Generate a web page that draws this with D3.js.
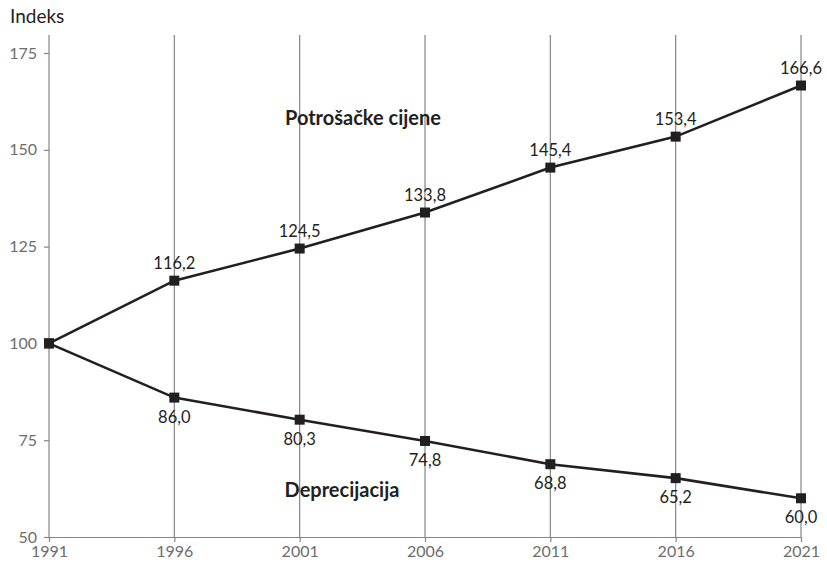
<!DOCTYPE html>
<html>
<head>
<meta charset="utf-8">
<script src="https://cdn.jsdelivr.net/npm/d3@7"></script>
<style>
  html, body { margin: 0; padding: 0; background: #fff; }
  svg { display: block; font-family: Lato, "Open Sans", sans-serif; }
</style>
</head>
<body>
<svg id="chart" width="827" height="568"></svg>
<script>
// Index values, 1991 = 100
const years = [1991, 1996, 2001, 2006, 2011, 2016, 2021];
const consumerPrices = [100, 116.2, 124.5, 133.8, 145.4, 153.4, 166.6];
const depreciation = [100, 86.0, 80.3, 74.8, 68.8, 65.2, 60.0];
const yTicks = [50, 75, 100, 125, 150, 175];
const seriesNames = ["Potrošačke cijene", "Deprecijacija"];

const svg = d3.select("#chart");
const margin = { left: 49, right: 26, top: 35, bottom: 31 };
const W = 827, H = 568;

const x = d3.scaleLinear().domain([1991, 2021]).range([margin.left, W - margin.right]);
const y = d3.scaleLinear().domain([50, 175]).range([H - margin.bottom, 53]);

const gridColor = "#858585";
const tickText = "#6d6d6d";
const ink = "#231f20";
const fmt = v => d3.format(".1f")(v).replace(".", ",");

// vertical grid lines at each year
svg.append("g").selectAll("line").data(years.slice(1)).join("line")
  .attr("x1", d => x(d)).attr("x2", d => x(d))
  .attr("y1", margin.top).attr("y2", y(50))
  .attr("stroke", gridColor).attr("stroke-width", 1.2);

// y axis
const yAxis = svg.append("g").attr("transform", `translate(${margin.left},0)`)
  .call(d3.axisLeft(y).tickValues(yTicks).tickSize(5).tickPadding(7));
yAxis.select(".domain").remove();
yAxis.append("line").attr("x1", 0).attr("x2", 0).attr("y1", margin.top).attr("y2", y(50))
  .attr("stroke", gridColor).attr("stroke-width", 1.2);
yAxis.selectAll(".tick line").attr("stroke", gridColor).attr("stroke-width", 1.2);
yAxis.selectAll(".tick text").attr("fill", tickText).attr("font-size", 16)
  .attr("font-family", "Lato, sans-serif");

// x axis
const xAxis = svg.append("g").attr("transform", `translate(0,${y(50)})`)
  .call(d3.axisBottom(x).tickValues(years).tickFormat(d3.format("d")).tickSize(5).tickPadding(4).tickSizeOuter(0));
xAxis.select(".domain").attr("stroke", gridColor).attr("stroke-width", 1.2);
xAxis.selectAll(".tick line").attr("stroke", gridColor).attr("stroke-width", 1.2);
xAxis.selectAll(".tick text").attr("fill", tickText).attr("font-size", 16)
  .attr("font-family", "Lato, sans-serif");

// axis title
svg.append("text").attr("x", 10).attr("y", 23).text("Indeks")
  .attr("font-size", 19).attr("fill", ink);

const line = d3.line().x((d, i) => x(years[i])).y(d => y(d));

function drawSeries(values, above) {
  svg.append("path").datum(values).attr("d", line)
    .attr("fill", "none").attr("stroke", ink).attr("stroke-width", 2.6);
  svg.append("g").selectAll("rect").data(values).join("rect")
    .attr("x", (d, i) => x(years[i]) - 5).attr("y", d => y(d) - 5)
    .attr("width", 10).attr("height", 10).attr("fill", ink);
  svg.append("g").selectAll("text").data(values.slice(1)).join("text")
    .attr("x", (d, i) => x(years[i + 1]))
    .attr("y", d => above ? y(d) - 12 : y(d) + 25)
    .attr("text-anchor", "middle").attr("font-size", 16.5).attr("fill", ink)
    .text(fmt);
}
drawSeries(consumerPrices, true);
drawSeries(depreciation, false);

// series labels
svg.append("text").attr("x", 363).attr("y", 125).attr("text-anchor", "middle")
  .attr("font-size", 20).attr("font-weight", 700).attr("fill", ink).text(seriesNames[0]);
svg.append("text").attr("x", 342).attr("y", 497).attr("text-anchor", "middle")
  .attr("font-size", 20).attr("font-weight", 700).attr("fill", ink).text(seriesNames[1]);
</script>
</body>
</html>
